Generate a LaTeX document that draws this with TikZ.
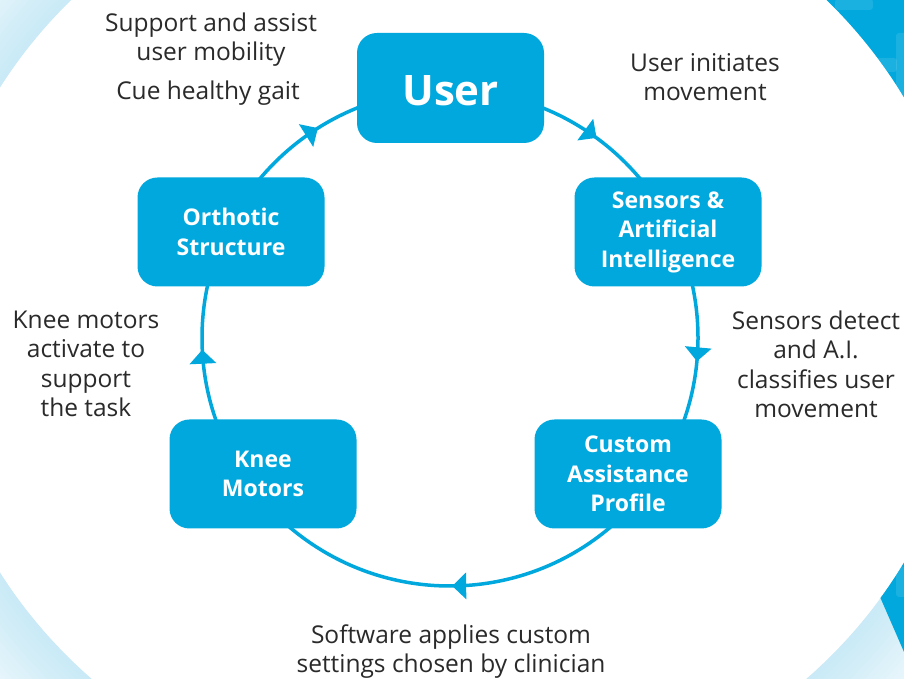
\documentclass[tikz,border=0pt]{standalone}
\usepackage{fontspec}
\setmainfont{Open Sans}
\usetikzlibrary{arrows.meta,decorations.markings}
\definecolor{cblue}{HTML}{00A8DD}
\definecolor{glow}{HTML}{C4E8F5}
\definecolor{txt}{HTML}{2A2A2A}
\tikzset{
  stepbox/.style={draw=none, fill=cblue, rounded corners=20pt, minimum width=187pt, minimum height=109pt,
    text=white, align=center, font=\fontsize{23}{29.5}\selectfont\bfseries, inner sep=0pt},
  lbl/.style={text=txt, align=center, font=\fontsize{24.5}{29.5}\selectfont, inner sep=0pt},
  ring/.style={draw=cblue, line width=3.5pt},
  tile/.style={fill=white, opacity=0.10, rounded corners=3pt},
}
\begin{document}
\begin{tikzpicture}[x=1pt,y=1pt]
\useasboundingbox (0,0) rectangle (904,679);
\fill[white] (0,0) rectangle (904,679);
\begin{scope}
\clip (0,0) rectangle (904,679);
% glow outside big ellipse
\foreach \i in {0,...,24}{
  \pgfmathsetmacro{\p}{4*\i}
  \pgfmathsetmacro{\d}{(24-\i)*5}
  \fill[glow!\p!white] (449,349) ellipse [x radius={520+\d}, y radius={480+\d}];
}
\fill[white] (449,349) ellipse [x radius=520, y radius=480];
% blue shapes on the right, outside the ellipse
\begin{scope}[even odd rule]
\clip (-10,-10) rectangle (914,689) (449,349) ellipse [x radius=520, y radius=480];
\fill[cblue] (760,689) -- (914,689) -- (914,440) -- cycle;
\fill[cblue] (904,27) -- (850,151) -- (914,320) -- (914,27) -- cycle;
\fill[tile] (835,680) rectangle (873,669);
\fill[tile] (896,646) rectangle (910,582);
\fill[tile] (872,621) rectangle (897,607);
\fill[tile] (842,628) rectangle (870,610);
\fill[tile] (896,112) rectangle (910,82);
\end{scope}
\end{scope}
% ring with arrows
\draw[ring, postaction={decorate}, decoration={markings,
  mark=at position 0.1006 with {\arrow{Triangle[length=14pt,width=26pt]}},
  mark=at position 0.2650 with {\arrow{Triangle[length=14pt,width=26pt]}},
  mark=at position 0.4986 with {\arrow{Triangle[length=14pt,width=26pt]}},
  mark=at position 0.7425 with {\arrow{Triangle[length=14pt,width=26pt]}},
  mark=at position 0.9106 with {\arrow{Triangle[length=14pt,width=26pt]}}}]
  (450,341) ++(90:248) arc[start angle=90, end angle=-270, radius=248];
% nodes
\node[stepbox, minimum height=110pt] (user) at (450.5,591) {};
\node[text=white, inner sep=0pt, font=\fontsize{42}{50}\selectfont\bfseries] (usertext) at (450.5,588) {User};
\node[stepbox] (orth) at (231,447) {Orthotic\\Structure};
\node[stepbox] (sens) at (668,447) {Sensors \&\\Artificial\\Intelligence};
\node[stepbox] (knee) at (263,205) {Knee\\Motors};
\node[stepbox] (cust) at (628,205) {Custom\\Assistance\\Profile};
% labels
\node[lbl] (l1) at (211,639.5) {Support and assist\\user mobility};
\node[lbl] (l2) at (208,586) {Cue healthy gait};
\node[lbl] (l3) at (705,602) {User initiates\\movement};
\node[lbl] (l4) at (816,314.5) {Sensors detect\\and A.I.\\classifies user\\movement};
\node[lbl] (l5) at (86,315) {Knee motors\\activate to\\support\\the task};
\node[lbl] (l6) at (451,27.5) {Software applies custom\\settings chosen by clinician};
\end{tikzpicture}
\end{document}
